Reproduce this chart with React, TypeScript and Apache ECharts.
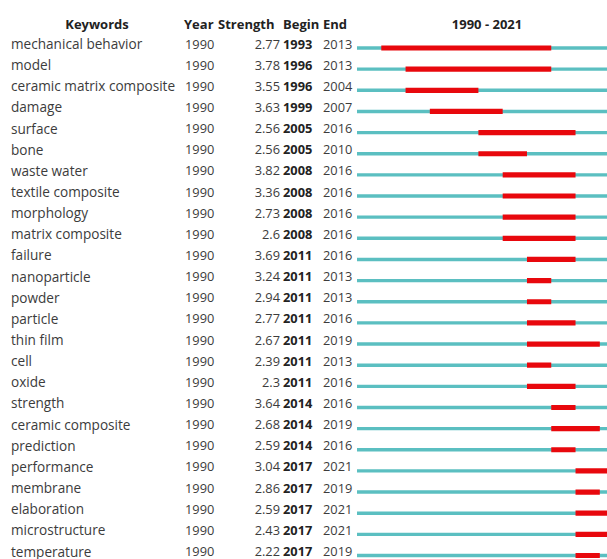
import React, { useEffect, useRef } from "react";
import * as echarts from "echarts";

const keywords = [
  "mechanical behavior", "model", "ceramic matrix composite", "damage", "surface",
  "bone", "waste water", "textile composite", "morphology", "matrix composite",
  "failure", "nanoparticle", "powder", "particle", "thin film", "cell", "oxide",
  "strength", "ceramic composite", "prediction", "performance", "membrane",
  "elaboration", "microstructure", "temperature",
];
const years = [
  1990, 1990, 1990, 1990, 1990, 1990, 1990, 1990, 1990, 1990, 1990, 1990, 1990,
  1990, 1990, 1990, 1990, 1990, 1990, 1990, 1990, 1990, 1990, 1990, 1990,
];
const strengths = [
  2.77, 3.78, 3.55, 3.63, 2.56, 2.56, 3.82, 3.36, 2.73, 2.6, 3.69, 3.24, 2.94,
  2.77, 2.67, 2.39, 2.3, 3.64, 2.68, 2.59, 3.04, 2.86, 2.59, 2.43, 2.22,
];
const begins = [
  1993, 1996, 1996, 1999, 2005, 2005, 2008, 2008, 2008, 2008, 2011, 2011, 2011,
  2011, 2011, 2011, 2011, 2014, 2014, 2014, 2017, 2017, 2017, 2017, 2017,
];
const ends = [
  2013, 2013, 2004, 2007, 2016, 2010, 2016, 2016, 2016, 2016, 2016, 2013, 2013,
  2016, 2019, 2013, 2016, 2016, 2019, 2016, 2021, 2019, 2021, 2021, 2019,
];
const startYear = 1990;
const endYear = 2021;
const headers = ["Keywords", "Year", "Strength", "Begin", "End"];

const FONT = "'Open Sans', 'Noto Sans', sans-serif";
const TEXT = "#3c3c3c";

export default function App() {
  const ref = useRef<HTMLDivElement>(null);
  useEffect(() => {
    document.body.style.margin = "0";
    document.body.style.overflow = "hidden";
    document.documentElement.style.overflow = "hidden";
    const chart = echarts.init(ref.current!, undefined, { renderer: "svg" });
    const data = keywords.map((k, i) => [i, begins[i], ends[i], strengths[i]]);
    const hStyle = (text: string, x: number, align: string) => ({
      type: "text",
      x,
      y: 24,
      style: {
        text,
        align,
        verticalAlign: "middle",
        fontFamily: FONT,
        fontSize: 13,
        fontWeight: "bold",
        fill: "#222",
      },
    });
    chart.setOption({
      animation: false,
      grid: { left: 357, right: 0, top: 48, bottom: 3.5 },
      xAxis: { type: "value", min: startYear, max: endYear + 1, show: false },
      yAxis: { type: "value", min: 0, max: keywords.length - 1, inverse: true, show: false },
      graphic: [
        hStyle(headers[0], 97, "center"),
        hStyle(headers[1], 184, "left"),
        hStyle(headers[2], 218, "left"),
        hStyle(headers[3], 283, "left"),
        hStyle(headers[4], 323, "left"),
        hStyle(`${startYear} - ${endYear}`, 487, "center"),
      ],
      series: [
        {
          type: "custom",
          clip: false,
          data,
          renderItem: (params: any, api: any) => {
            const i = api.value(0);
            const b = api.value(1);
            const e = api.value(2);
            const s = api.coord([startYear, i]);
            const t = api.coord([endYear + 1, i]);
            const rb = api.coord([b, i]);
            const re = api.coord([e + 1, i]);
            const y = s[1];
            const ty = y - 4.5;
            const txt = (text: string, x: number, align: string, size: number, bold = false) => ({
              type: "text",
              style: {
                text,
                x,
                y: ty,
                align,
                verticalAlign: "middle",
                fontFamily: FONT,
                fontSize: size,
                fontWeight: bold ? "bold" : "normal",
                fill: bold ? "#222" : TEXT,
              },
            });
            return {
              type: "group",
              children: [
                {
                  type: "rect",
                  shape: { x: s[0], y: y - 1.7, width: t[0] - s[0], height: 3.4 },
                  style: { fill: "#5bbfc1" },
                },
                {
                  type: "rect",
                  shape: { x: rb[0], y: y - 2.6, width: re[0] - rb[0], height: 5.2 },
                  style: { fill: "#e8080d" },
                },
                txt(keywords[i], 11, "left", 13.6),
                txt(String(years[i]), 185, "left", 12.8),
                txt(String(api.value(3)), 280, "right", 12.8),
                txt(String(b), 283, "left", 12.8, true),
                txt(String(e), 323, "left", 12.8),
              ],
            };
          },
        },
      ],
    });
    return () => chart.dispose();
  }, []);
  return <div ref={ref} style={{ width: 616, height: 559 }} />;
}
